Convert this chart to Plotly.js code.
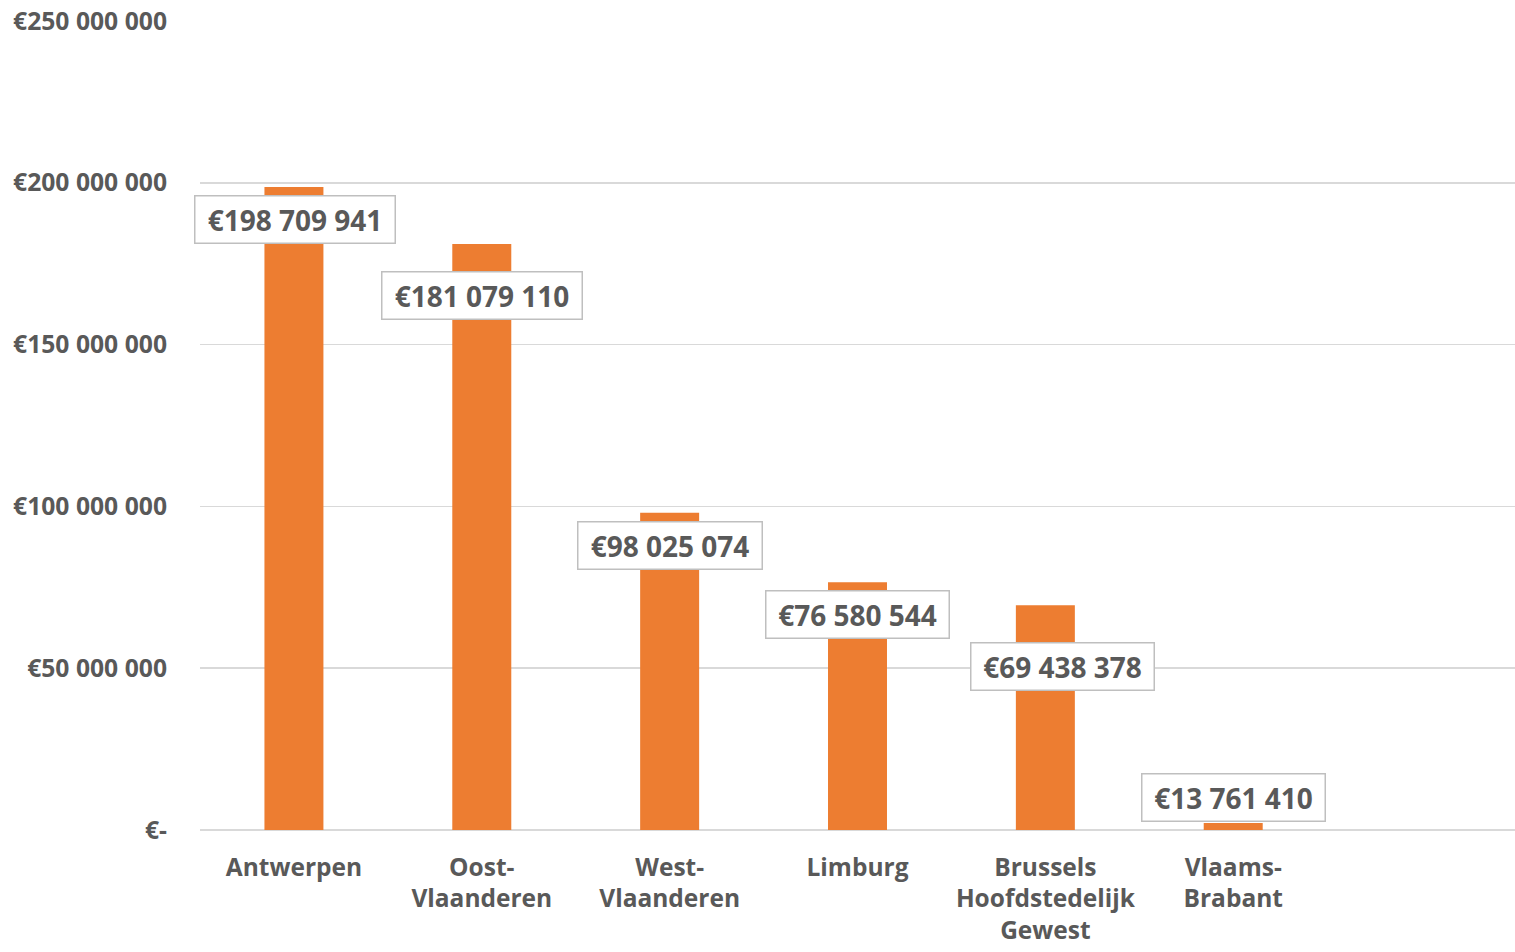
<!DOCTYPE html>
<html>
<head>
<meta charset="utf-8">
<script src="https://cdn.plot.ly/plotly-3.0.1.min.js"></script>
<style>html,body{margin:0;padding:0;background:#fff;}#chart{width:1515px;height:952px;}</style>
</head>
<body>
<div id="chart"></div>
<script>
// Data
const categories = ["Antwerpen", "Oost-<br>Vlaanderen", "West-<br>Vlaanderen", "Limburg", "Brussels<br>Hoofdstedelijk<br>Gewest", "Vlaams-<br>Brabant"];
// bar heights as drawn in the picture
const barValues = [198709941, 181079110, 98025074, 76580544, 69438378, 2200000];
// printed data labels
const labelValues = [198709941, 181079110, 98025074, 76580544, 69438378, 13761410];
const yTickVals = [0, 50000000, 100000000, 150000000, 200000000, 250000000];
const yTickText = ["€-", "€50 000 000", "€100 000 000", "€150 000 000", "€200 000 000", "€250 000 000"];

// label placement (style only)
const labelYShift = [-33, -51, -33, -32, -61, 25];
const labelXShift = [1, 0, 0, 0, 17, 0];
const labelBoxW = [189, 189, 173, 172, 172, 172];

function fmt(v) {
  return "€" + String(v).replace(/\B(?=(\d{3})+(?!\d))/g, " ");
}

const FONT = "'Open Sans', sans-serif";
const GREY = "#595959";

const trace = {
  type: "bar",
  x: categories,
  y: barValues,
  marker: {color: "#ED7D31"},
  hoverinfo: "none"
};

const annotations = categories.map((c, i) => ({
  x: c,
  y: barValues[i],
  xref: "x",
  yref: "y",
  text: "<b>" + fmt(labelValues[i]) + "</b>",
  showarrow: false,
  xanchor: "center",
  yanchor: "middle",
  yshift: labelYShift[i],
  xshift: labelXShift[i],
  width: labelBoxW[i],
  height: 36,
  align: "center",
  bgcolor: "#ffffff",
  bordercolor: "#bfbfbf",
  borderwidth: 1.5,
  borderpad: 5,
  font: {family: FONT, size: 28, color: GREY}
}));

const layout = {
  width: 1515,
  height: 952,
  margin: {l: 200, r: 0, t: 21, b: 122},
  paper_bgcolor: "#ffffff",
  plot_bgcolor: "#ffffff",
  showlegend: false,
  bargap: 0.686,
  xaxis: {
    type: "category",
    range: [-0.5, 6.5],
    showgrid: false,
    showline: false,
    zeroline: false,
    ticks: "",
    tickfont: {family: FONT, size: 24.5, color: GREY, weight: "bold"},
    ticklabelstandoff: 20,
    fixedrange: true
  },
  yaxis: {
    range: [0, 250000000],
    tickvals: yTickVals,
    ticktext: yTickText,
    showgrid: true,
    gridcolor: "#d9d9d9",
    gridwidth: 1.5,
    zeroline: true,
    zerolinecolor: "#d9d9d9",
    zerolinewidth: 2,
    showline: false,
    ticks: "",
    tickfont: {family: FONT, size: 24.7, color: GREY, weight: "bold"},
    ticklabelstandoff: 32,
    fixedrange: true
  },
  annotations: annotations
};

Plotly.newPlot("chart", [trace], layout, {displayModeBar: false, staticPlot: true});
</script>
</body>
</html>
